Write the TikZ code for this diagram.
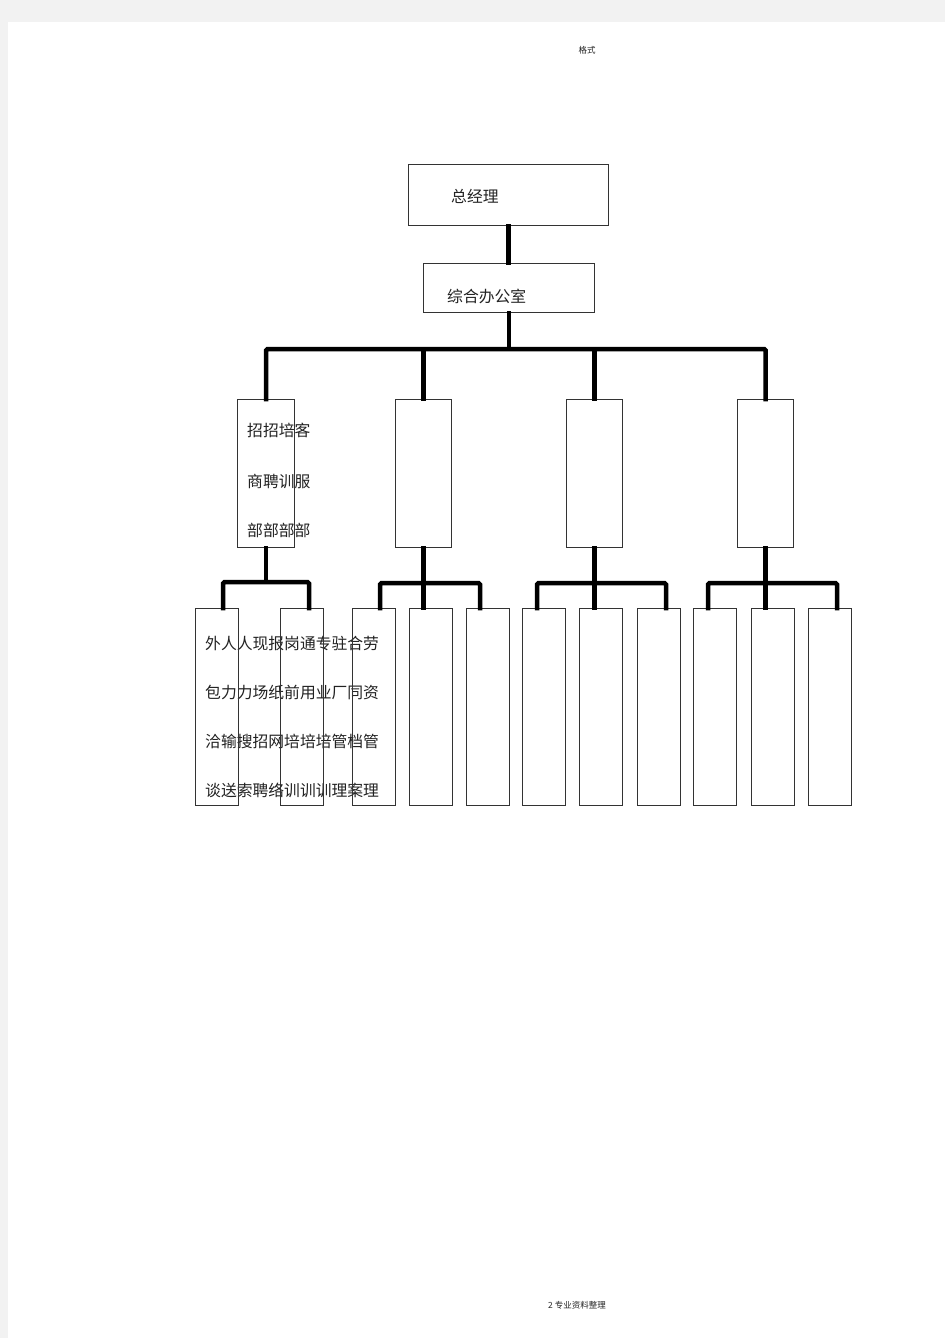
\documentclass[tikz,border=0pt]{standalone}
\usepackage{fontspec}
\setmainfont{Noto Sans CJK SC}
\newfontfamily\cjk{Noto Sans CJK SC}
\definecolor{pagegray}{HTML}{F2F2F2}
\definecolor{boxline}{HTML}{333333}
\definecolor{txt}{HTML}{222222}
\tikzset{
  box/.style={draw=boxline, line width=1.2pt, anchor=north west, inner sep=0pt, rectangle},
  conn/.style={line width=4.5pt, draw=black, line cap=rect, rounded corners=1.5pt},
  lbl/.style={anchor=west, inner sep=0pt, text=txt, font=\cjk\fontsize{15.8}{15.8}\selectfont},
  small/.style={inner sep=0pt, text=txt, font=\cjk\fontsize{8.5}{8.5}\selectfont}
}
\begin{document}
\begin{tikzpicture}[x=1pt,y=-1pt]
\fill[pagegray] (0,0) rectangle (945,1338);
\fill[white] (8,22) rectangle (945,1338);
\useasboundingbox (0,0) rectangle (945,1338);

\node[small] (hdr) at (587,50) {格式};
\node[small] (ftr) at (577,1305) {2 专业资料整理};

% texts (drawn first so the box edges lie over them)
\node[lbl] (gmt) at (451,196) {总经理};
\node[lbl] (offt) at (447,296) {综合办公室};
\node[lbl] (ma) at (247,430) {招招培客};
\node[lbl] (mb) at (247,481) {商聘训服};
\node[lbl] (mc) at (247,530) {部部部部};
\node[lbl] (ra) at (205,643) {外人人现报岗通专驻合劳};
\node[lbl] (rb) at (205,692) {包力力场纸前用业厂同资};
\node[lbl] (rc) at (205,741) {洽输搜招网培培培管档管};
\node[lbl] (rd) at (205,790) {谈送索聘络训训训理案理};

% top boxes
\node[box, minimum width=200pt, minimum height=61pt] (gm) at (408,164) {};
\node[box, minimum width=171pt, minimum height=49pt] (off) at (423,263) {};

% middle boxes
\node[box, minimum width=57pt, minimum height=148pt] (m1) at (237,399) {};
\node[box, minimum width=56pt, minimum height=148pt] (m2) at (395,399) {};
\node[box, minimum width=56pt, minimum height=148pt] (m3) at (566,399) {};
\node[box, minimum width=56pt, minimum height=148pt] (m4) at (737,399) {};

% bottom boxes
\foreach \n/\x in {1/195,2/280,3/352,4/409,5/466,6/522,7/579,8/637,9/693,10/751,11/808}{
  \node[box, minimum width=43pt, minimum height=197pt] (c\n) at (\x,608) {};
}

% drop points on the bottom boxes
\coordinate (d1) at (223,608);
\coordinate (d2) at (309,608);
\coordinate (d3) at (380,608);
\coordinate (d5) at (480,608);
\coordinate (d6) at (537,608);
\coordinate (d8) at (666,608);
\coordinate (d9) at (708,608);
\coordinate (d11) at (837,608);

% connectors
\coordinate (bar) at (508,349);
\draw[conn] (gm.south) -- (gm.south |- off.north);
\draw[conn] (off.south) -- (off.south |- bar);
\draw[conn] (m1.north) |- (bar) -| (m4.north);
\draw[conn] (m2.north) -- (m2.north |- bar);
\draw[conn] (m3.north) -- (m3.north |- bar);

\coordinate (g1) at (266,582);
\coordinate (g2) at (423,583);
\coordinate (g3) at (594,583);
\coordinate (g4) at (766,583);
\draw[conn] (m1.south) -- (m1.south |- g1);
\draw[conn] (m2.south) -- (m2.south |- c4.north);
\draw[conn] (m3.south) -- (m3.south |- c7.north);
\draw[conn] (m4.south) -- (m4.south |- c10.north);

\draw[conn] (d1) |- (g1) -| (d2);
\draw[conn] (d3) |- (g2) -| (d5);
\draw[conn] (d6) |- (g3) -| (d8);
\draw[conn] (d9) |- (g4) -| (d11);
\end{tikzpicture}
\end{document}
